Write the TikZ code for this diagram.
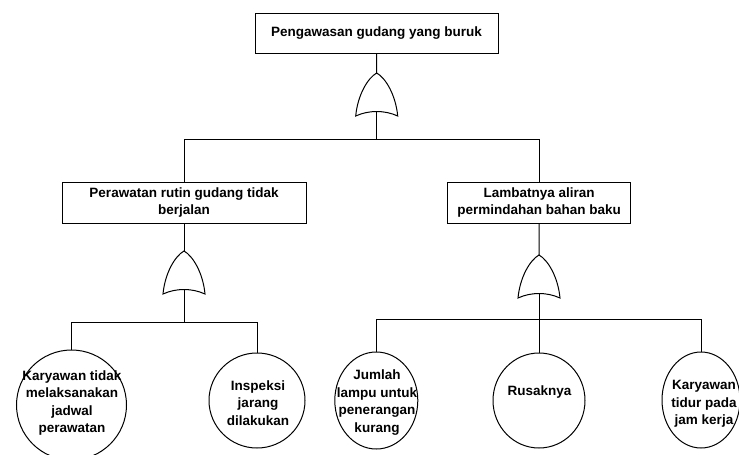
\documentclass[tikz,border=0pt]{standalone}
\usepackage{fontspec}
\setmainfont{Liberation Sans}
\usetikzlibrary{shapes.geometric}
\begin{document}
\begin{tikzpicture}[x=1pt,y=-1pt,
  every node/.style={font=\bfseries\fontsize{13.5}{17.5}\selectfont},
  box/.style={draw,line width=1pt,inner sep=0pt,align=center,minimum height=41pt},
  ev/.style={draw,ellipse,line width=1pt,inner sep=0pt},
  lbl/.style={align=center,inner sep=0pt},
  conn/.style={line width=1pt},
  orgate/.pic={\draw[conn] (-21,43) .. controls (-19,22) and (-9,5) .. (0,0) .. controls (9,5) and (19,22) .. (21,43) .. controls (8,37) and (-8,37) .. cycle;}]
\useasboundingbox (0,0) rectangle (739,455);
\fill[white] (0,0) rectangle (739,455);
\clip (0,0) rectangle (739,455);

% boxes
\node[box,minimum width=243pt,minimum height=40pt] (top) at (376.5,33) {Pengawasan gudang yang buruk};
\node[box,minimum width=244pt] (L) at (184,202.5) {Perawatan rutin gudang tidak\\berjalan};
\node[box,minimum width=183pt] (R) at (539.2,202.5) {Lambatnya aliran\\permindahan bahan baku};

% gates
\coordinate (g1) at (376.7,73);   \coordinate (g1b) at (376.7,111.5); \coordinate (j1) at (376.7,140);
\coordinate (g2) at (184,251);    \coordinate (g2b) at (184,289.5);   \coordinate (j2) at (184,323);
\coordinate (g3) at (539,255);    \coordinate (g3b) at (539,293.5);   \coordinate (j3) at (539,320);
\pic at (g1) {orgate};
\pic at (g2) {orgate};
\pic at (g3) {orgate};

% basic events
\node[ev,minimum width=110pt,minimum height=110pt] (c1) at (71.5,405) {};
\node[ev,minimum width=96pt,minimum height=95pt] (c2) at (257,400.5) {};
\node[ev,minimum width=83pt,minimum height=97pt] (c3) at (376.3,400.5) {};
\node[ev,minimum width=92pt,minimum height=95pt] (c4) at (539,400.5) {};
\node[ev,minimum width=78pt,minimum height=96pt] (c5) at (701,400) {};

\node[lbl] (t1) at (72,403) {Karyawan tidak\\melaksanakan\\jadwal\\perawatan};
\node[lbl] (t2) at (258,403) {Inspeksi\\jarang\\dilakukan};
\node[lbl] (t3) at (377,402.5) {Jumlah\\lampu untuk\\penerangan\\kurang};
\node[lbl] (t4) at (539.5,391.7) {Rusaknya};
\node[lbl] (t5) at (704,403.8) {Karyawan\\tidur pada\\jam kerja};

% connectors
\draw[conn] (top) -- (g1);
\draw[conn] (g1b) -- (j1);
\draw[conn] (L.north) -- ++(0,-42) -| (R.north);
\draw[conn] (L) -- (g2);
\draw[conn] (R) -- (g3);
\draw[conn] (g2b) -- (j2);
\draw[conn] (c1.north) -- ++(0,-27) -| (c2.north);
\draw[conn] (g3b) -- (j3);
\draw[conn] (c3.north) -- ++(0,-32) -| (c5.north);
\draw[conn] (j3) -- (c4.north);
\end{tikzpicture}
\end{document}
